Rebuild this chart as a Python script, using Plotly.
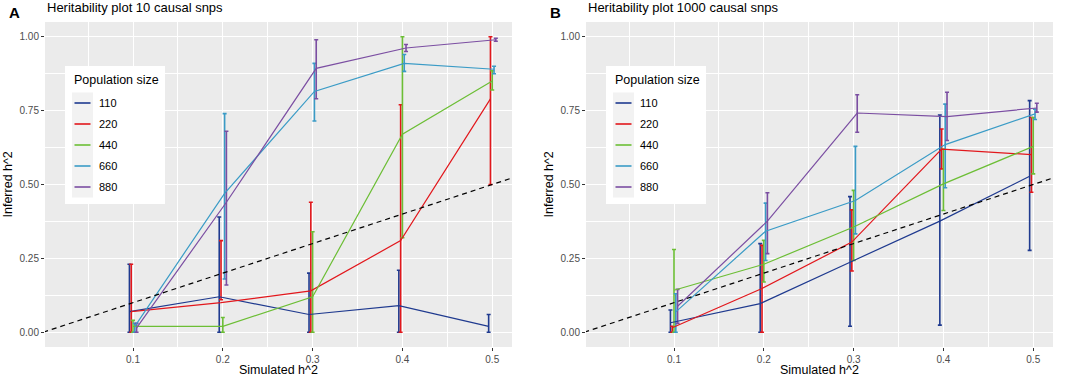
import plotly.graph_objects as go

# ---------------- data ----------------
sim_h2 = [0.1, 0.2, 0.3, 0.4, 0.5]
pop_sizes = ["110", "220", "440", "660", "880"]
colors = ["#1F3A8F", "#E2171C", "#6CBE35", "#3A9BC6", "#7B4EA2"]
x_ticks = [0.1, 0.2, 0.3, 0.4, 0.5]
y_ticks = [0.0, 0.25, 0.5, 0.75, 1.0]

# Panel A: 10 causal snps  (mean, lower, upper)
a_110 = [0.07, 0.12, 0.06, 0.09, 0.02]
a_110_lo = [0.0, 0.0, 0.0, 0.0, 0.0]
a_110_hi = [0.23, 0.39, 0.20, 0.21, 0.06]
a_220 = [0.07, 0.10, 0.14, 0.31, 0.79]
a_220_lo = [0.0, 0.11, 0.0, 0.0, 0.50]
a_220_hi = [0.23, 0.31, 0.44, 0.77, 1.00]
a_440 = [0.02, 0.02, 0.12, 0.67, 0.85]
a_440_lo = [0.0, 0.0, 0.0, 0.32, 0.82]
a_440_hi = [0.04, 0.05, 0.34, 1.00, 0.885]
a_660 = [0.02, 0.47, 0.815, 0.91, 0.89]
a_660_lo = [0.0, 0.18, 0.715, 0.883, 0.875]
a_660_hi = [0.03, 0.74, 0.91, 0.94, 0.90]
a_880 = [0.015, 0.44, 0.893, 0.962, 0.99]
a_880_lo = [0.0, 0.16, 0.79, 0.95, 0.985]
a_880_hi = [0.03, 0.68, 0.99, 0.974, 0.995]

# Panel B: 1000 causal snps
b_110 = [0.032, 0.097, 0.237, 0.376, 0.528]
b_110_lo = [0.0, 0.0, 0.02, 0.024, 0.277]
b_110_hi = [0.075, 0.30, 0.459, 0.735, 0.784]
b_220 = [0.015, 0.148, 0.305, 0.62, 0.601]
b_220_lo = [0.0, 0.0, 0.207, 0.553, 0.474]
b_220_hi = [0.02, 0.294, 0.414, 0.688, 0.727]
b_440 = [0.142, 0.23, 0.356, 0.502, 0.629]
b_440_lo = [0.0, 0.17, 0.243, 0.412, 0.536]
b_440_hi = [0.28, 0.311, 0.48, 0.62, 0.727]
b_660 = [0.069, 0.342, 0.446, 0.635, 0.739]
b_660_lo = [0.0, 0.243, 0.333, 0.489, 0.72]
b_660_hi = [0.13, 0.437, 0.629, 0.772, 0.755]
b_880 = [0.088, 0.376, 0.742, 0.73, 0.759]
b_880_lo = [0.03, 0.266, 0.677, 0.649, 0.745]
b_880_hi = [0.145, 0.472, 0.804, 0.812, 0.775]

identity_x = [0.0, 0.6]
identity_y = [0.0, 0.6]

titles = ["Heritability plot 10 causal snps", "Heritability plot 1000 causal snps"]
tags = ["A", "B"]

panels = [
    [(a_110, a_110_lo, a_110_hi), (a_220, a_220_lo, a_220_hi), (a_440, a_440_lo, a_440_hi),
     (a_660, a_660_lo, a_660_hi), (a_880, a_880_lo, a_880_hi)],
    [(b_110, b_110_lo, b_110_hi), (b_220, b_220_lo, b_220_hi), (b_440, b_440_lo, b_440_hi),
     (b_660, b_660_lo, b_660_hi), (b_880, b_880_lo, b_880_hi)],
]

# ---------------- layout helpers ----------------
W, H = 1074, 379
FONT = "Liberation Sans, Arial, sans-serif"
def px(x):
    return x / W
def py(y):
    return 1 - y / H

plot_left = [45, 586]
plot_right = [512, 1053]
plot_top, plot_bottom = 22, 347
dodge_width = 0.01
n = len(pop_sizes)

fig = go.Figure()

for p, groups in enumerate(panels):
    xa = "x" if p == 0 else "x2"
    ya = "y" if p == 0 else "y2"
    # error bars
    for g, (mean, lo, hi) in enumerate(groups):
        off = (g - (n - 1) / 2) * dodge_width / n
        xs = [v + off for v in sim_h2]
        fig.add_trace(go.Scatter(
            x=xs, y=mean, mode="markers", xaxis=xa, yaxis=ya,
            marker=dict(size=1, color="rgba(0,0,0,0)"),
            error_y=dict(type="data", symmetric=False,
                         array=[h - m for h, m in zip(hi, mean)],
                         arrayminus=[m - l for m, l in zip(mean, lo)],
                         color=colors[g], thickness=1.6, width=2),
            showlegend=False, hoverinfo="skip"))
    # lines
    for g, (mean, lo, hi) in enumerate(groups):
        off = (g - (n - 1) / 2) * dodge_width / n
        xs = [v + off for v in sim_h2]
        fig.add_trace(go.Scatter(
            x=xs, y=mean, mode="lines", xaxis=xa, yaxis=ya,
            line=dict(color=colors[g], width=1.2),
            name=pop_sizes[g], showlegend=False))
    # identity dashed line
    fig.add_trace(go.Scatter(
        x=identity_x, y=identity_y, mode="lines", xaxis=xa, yaxis=ya,
        line=dict(color="black", width=1.2, dash="5px,4px"),
        showlegend=False, hoverinfo="skip"))

axis_common = dict(
    showline=False, zeroline=False, ticks="outside", ticklen=3, tickwidth=1,
    tickcolor="#333333", tickfont=dict(family=FONT, size=10, color="#4D4D4D"),
    showgrid=True, gridcolor="white", gridwidth=1.2,
)

layout = dict(
    width=W, height=H, margin=dict(l=0, r=0, t=0, b=0),
    paper_bgcolor="white", plot_bgcolor="#EBEBEB",
    font=dict(family=FONT, color="black"),
    showlegend=False,
)
for p in range(2):
    sx = "" if p == 0 else "2"
    layout["xaxis" + sx] = dict(
        axis_common, domain=[px(plot_left[p]), px(plot_right[p])], range=[0.002, 0.522],
        tickvals=x_ticks, ticktext=[f"{v:.1f}" for v in x_ticks],
        minor=dict(dtick=0.05, tick0=0.05, showgrid=True, gridcolor="white", gridwidth=0.6, ticks=""),
        anchor="y" + sx)
    layout["yaxis" + sx] = dict(
        axis_common, domain=[py(plot_bottom), py(plot_top)], range=[-0.05, 1.05],
        tickvals=y_ticks, ticktext=[f"{v:.2f}" for v in y_ticks],
        minor=dict(dtick=0.125, tick0=0.125, showgrid=True, gridcolor="white", gridwidth=0.6, ticks=""),
        anchor="x" + sx)
fig.update_layout(**layout)

annotations = []
shapes = []
for p in range(2):
    L, R = plot_left[p], plot_right[p]
    # tag and title
    annotations.append(dict(x=px(L - 38), y=py(12), xref="paper", yref="paper", text=f"<b>{tags[p]}</b>",
                            showarrow=False, xanchor="left", yanchor="middle",
                            font=dict(family=FONT, size=15, color="black")))
    annotations.append(dict(x=px(L), y=py(8), xref="paper", yref="paper", text=titles[p],
                            showarrow=False, xanchor="left", yanchor="middle",
                            font=dict(family=FONT, size=13, color="black")))
    # axis titles
    annotations.append(dict(x=px((L + R) / 2), y=py(370), xref="paper", yref="paper", text="Simulated h^2",
                            showarrow=False, xanchor="center", yanchor="middle",
                            font=dict(family=FONT, size=12.5, color="black")))
    annotations.append(dict(x=px(L - 37), y=py((plot_top + plot_bottom) / 2), xref="paper", yref="paper",
                            text="Inferred h^2", textangle=-90,
                            showarrow=False, xanchor="center", yanchor="middle",
                            font=dict(family=FONT, size=12.5, color="black")))
    # legend box
    lx0, lx1, ly0, ly1 = L + 20, L + 120, 66, 204
    shapes.append(dict(type="rect", xref="paper", yref="paper", x0=px(lx0), x1=px(lx1), y0=py(ly1), y1=py(ly0),
                       fillcolor="white", line=dict(width=0), layer="above"))
    shapes.append(dict(type="rect", xref="paper", yref="paper", x0=px(lx0 + 7), x1=px(lx0 + 28),
                       y0=py(92.5 + 21 * n), y1=py(92.5), fillcolor="#F2F2F2", line=dict(width=0), layer="above"))
    annotations.append(dict(x=px(lx0 + 7), y=py(80), xref="paper", yref="paper", text="Population size",
                            showarrow=False, xanchor="left", yanchor="middle",
                            font=dict(family=FONT, size=12.5, color="black")))
    for g in range(n):
        yc = 103 + 21 * g
        shapes.append(dict(type="line", xref="paper", yref="paper", x0=px(lx0 + 9.5), x1=px(lx0 + 25.5),
                           y0=py(yc), y1=py(yc), line=dict(color=colors[g], width=1.6), layer="above"))
        annotations.append(dict(x=px(lx0 + 32), y=py(yc), xref="paper", yref="paper", text=pop_sizes[g],
                                showarrow=False, xanchor="left", yanchor="middle",
                                font=dict(family=FONT, size=11, color="black")))

fig.update_layout(annotations=annotations, shapes=shapes)
fig.write_html("out.html", config={"displayModeBar": False},
               post_script="document.body.style.margin='0px';")
